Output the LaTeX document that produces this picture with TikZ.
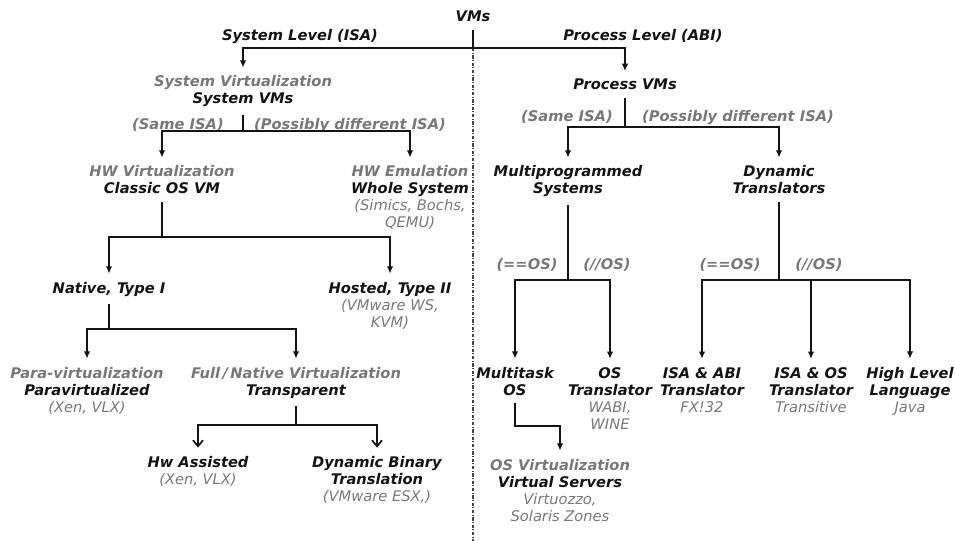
\documentclass[tikz,border=0pt]{standalone}
\usepackage{fontspec}
\setmainfont{DejaVu Sans}
\usetikzlibrary{arrows.meta}
\definecolor{ink}{RGB}{20,20,20}
\definecolor{soft}{RGB}{120,120,120}
% grey heading line / grey example line inside a node
\newcommand{\softtxt}[1]{{\color{soft}#1}}
\newcommand{\exampletxt}[1]{{\color{soft}\mdseries #1}}

\begin{document}
\begin{tikzpicture}[x=0.75pt,y=-0.75pt,
  lbl/.style={font=\fontsize{11}{12.75}\selectfont\bfseries\itshape, text=ink,
              align=center, anchor=base, inner xsep=1pt, inner ysep=6pt},
  conn/.style={draw=ink, line width=1.3pt},
  arr/.style={conn, -{Latex[length=5.5pt,width=5pt]}},
  openarr/.style={conn, -{Straight Barb[length=4.5pt,width=7.5pt]}},
  divider/.style={draw=ink!80, line width=0.9pt,
                  dash pattern=on 2.4pt off 1.2pt on 0.7pt off 1.2pt}]
\useasboundingbox (0,0) rectangle (955,541);

% (node positions give the baseline of each node's last line)

% ---- top level
\node[lbl] (vms) at (473,22) {VMs};
\node[lbl] (syslvl) at (300,41) {System Level (ISA)};
\node[lbl] (proclvl) at (643,41) {Process Level (ABI)};

% ---- system side
\node[lbl] (sysvm) at (243,104) {\softtxt{System Virtualization}\\System VMs};
\node[lbl,text=soft] (sameL) at (178,130) {(Same ISA)};
\node[lbl,text=soft] (diffL) at (350,130) {(Possibly different ISA)};
\node[lbl] (hwvirt) at (162,194) {\softtxt{HW Virtualization}\\Classic OS VM};
\node[lbl] (hwemu) at (410,228) {\softtxt{HW Emulation}\\Whole System\\
  \exampletxt{(Simics, Bochs,}\\\exampletxt{QEMU)}};
\node[lbl] (native) at (109,293) {Native, Type I};
\node[lbl] (hosted) at (390,327) {Hosted, Type II\\\exampletxt{(VMware WS,}\\\exampletxt{KVM)}};
\node[lbl] (para) at (87,412) {\softtxt{Para-virtualization}\\Paravirtualized\\\exampletxt{(Xen, VLX)}};
\node[lbl] (full) at (296,395) {\softtxt{Full\,/\,Native Virtualization}\\Transparent};
\node[lbl] (hwassist) at (198,484) {Hw Assisted\\\exampletxt{(Xen, VLX)}};
\node[lbl] (dbt) at (377,501) {Dynamic Binary\\Translation\\\exampletxt{(VMware ESX,)}};

% ---- process side
\node[lbl] (procvm) at (625,90) {Process VMs};
\node[lbl,text=soft] (sameR) at (567,122) {(Same ISA)};
\node[lbl,text=soft] (diffR) at (738,122) {(Possibly different ISA)};
\node[lbl] (multiprog) at (568,194) {Multiprogrammed\\Systems};
\node[lbl] (dyntr) at (779,194) {Dynamic\\Translators};
\node[lbl,text=soft] (eqA) at (527,270) {(==OS)};
\node[lbl,text=soft] (neA) at (607,270) {(//OS)};
\node[lbl,text=soft] (eqB) at (730,270) {(==OS)};
\node[lbl,text=soft] (neB) at (819,270) {(//OS)};
\node[lbl] (multitask) at (515,395) {Multitask\\OS};
\node[lbl] (ostr) at (610,429) {OS\\Translator\\\exampletxt{WABI,}\\\exampletxt{WINE}};
\node[lbl] (isaabi) at (702,412) {ISA \& ABI\\Translator\\\exampletxt{FX!32}};
\node[lbl] (isaos) at (811,412) {ISA \& OS\\Translator\\\exampletxt{Transitive}};
\node[lbl] (hll) at (910,412) {High Level\\Language\\\exampletxt{Java}};
\node[lbl] (osvirt) at (560,521) {\softtxt{OS Virtualization}\\Virtual Servers\\
  \exampletxt{Virtuozzo,}\\\exampletxt{Solaris Zones}};

% ---- junction points of the tree
\coordinate (j0) at (473,48);
\coordinate (divend) at (473,541);
\coordinate (j1) at (243,131);
\coordinate (j2) at (162,237);
\coordinate (j3) at (109,329);
\coordinate (j4) at (296,425);
\coordinate (j5) at (625,127);
\coordinate (j6) at (568,280);
\coordinate (j7) at (779,280);
\coordinate (j8) at (560,426);

% ---- separator between system and process VMs
\draw[divider] (j0) -- (divend);

% ---- connectors
\draw[conn] (vms.south) -- (j0);
\draw[arr] (j0) -| (sysvm.north);
\draw[arr] (j0) -| (procvm.north);

\draw[conn] (sysvm.south) -- (j1);
\draw[arr] (j1) -| (hwvirt.north);
\draw[arr] (j1) -| (hwemu.north);

\draw[conn] (hwvirt.south) -- (j2);
\draw[arr] (j2) -| (native.north);
\draw[arr] (j2) -| (hosted.north);

\draw[conn] (native.south) -- (j3);
\draw[arr] (j3) -| (para.north);
\draw[arr] (j3) -| (full.north);

\draw[conn] (full.south) -- (j4);
\draw[openarr] (j4) -| (hwassist.north);
\draw[openarr] (j4) -| (dbt.north);

\draw[conn] (procvm.south) -- (j5);
\draw[arr] (j5) -| (multiprog.north);
\draw[arr] (j5) -| (dyntr.north);

\draw[conn] (multiprog.south) -- (j6);
\draw[arr] (j6) -| (multitask.north);
\draw[arr] (j6) -| (ostr.north);

\draw[conn] (dyntr.south) -- (j7);
\draw[arr] (j7) -| (isaabi.north);
\draw[arr] (j7) -| (isaos.north);
\draw[arr] (j7) -| (hll.north);

\draw[arr] (multitask.south) |- (j8) -- (osvirt.north);
\end{tikzpicture}
\end{document}
